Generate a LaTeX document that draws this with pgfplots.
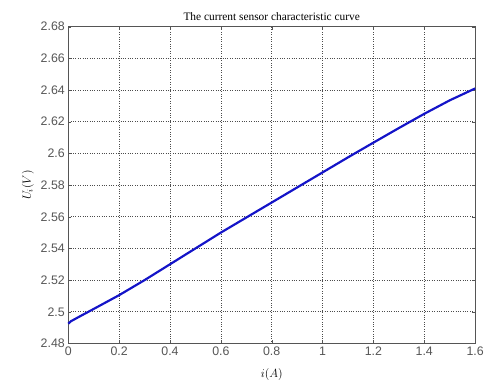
\documentclass[border=0pt]{standalone}
\usepackage{pgfplots}
\pgfplotsset{compat=1.18}
\usepackage{fontspec}
\setmainfont{Liberation Serif}
\newfontfamily\arial{Liberation Sans}
\definecolor{tickgray}{RGB}{85,85,85}
\definecolor{curveblue}{RGB}{20,20,200}
\begin{document}
\begin{tikzpicture}[x=1pt,y=1pt]
\begin{axis}[
  at={(0,0)}, anchor=south west,
  scale only axis,
  width=411pt, height=320pt,
  xmin=0, xmax=1.6, ymin=2.48, ymax=2.68,
  xtick={0,0.2,...,1.6},
  ytick={2.48,2.50,...,2.68},
  yticklabel style={/pgf/number format/fixed,/pgf/number format/precision=2},
  xticklabel style={/pgf/number format/fixed},
  /pgf/number format/assume math mode=true,
  ticklabel style={font=\arial\fontsize{12.5}{12.5}\selectfont, text=tickgray},
  tick style={draw=tickgray},
  tick align=inside,
  major tick length=3pt,
  axis line style={draw=tickgray, line width=0.8pt},
  grid=major,
  major grid style={dotted, draw=black!70, line width=0.6pt},
  title={The current sensor characteristic curve},
  title style={font=\fontsize{11.5}{11.5}\selectfont, yshift=-3pt},
  xlabel={$i(A)$},
  ylabel={$U_i(V)$},
  xlabel style={font=\fontsize{12}{12}\selectfont, yshift=-6pt},
  ylabel style={font=\fontsize{12}{12}\selectfont, yshift=0pt},
  clip=false,
]
\addplot[curveblue, line width=2.2pt] coordinates {
(0,2.4925) (0.01,2.4940) (0.05,2.4975) (0.1,2.5018) (0.2,2.5105) (0.3,2.5200) (0.4,2.5300)
(0.5,2.5400) (0.6,2.5500) (0.7,2.5595) (0.8,2.5690) (0.9,2.5785) (1.0,2.5880)
(1.1,2.5975) (1.2,2.6068) (1.3,2.6160) (1.4,2.6250) (1.5,2.6335) (1.6,2.6410)
};
\end{axis}
\useasboundingbox (-69,-36) rectangle (418,347);
\end{tikzpicture}
\end{document}
